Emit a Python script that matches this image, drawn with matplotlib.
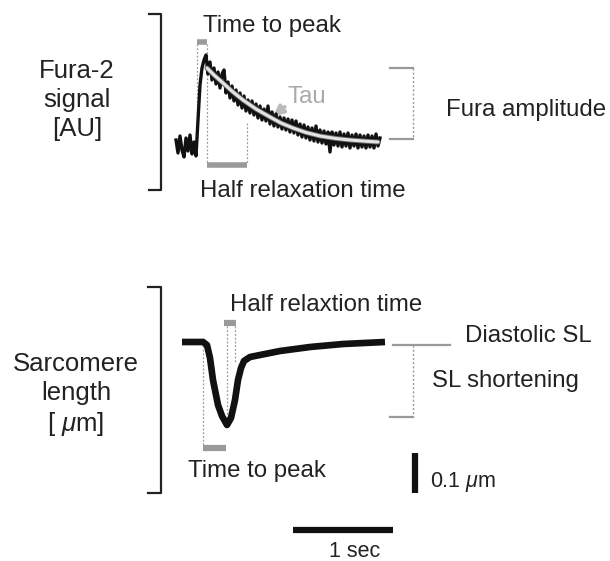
import matplotlib
matplotlib.use('Agg')

import numpy as np
import matplotlib.pyplot as plt

plt.rcParams['font.family'] = ['Liberation Sans', 'DejaVu Sans']
plt.rcParams['mathtext.fontset'] = 'custom'
plt.rcParams['mathtext.rm'] = 'Liberation Sans'
plt.rcParams['mathtext.it'] = 'Liberation Sans:italic'

# Fura-2 trace, sampled every 20 ms (AU, baseline ~0)
fura_t = np.arange(103) * 0.02
fura_sig = [0.08, -0.05, 0.12, -0.02, -0.09, 0.10, -0.03, 0.13, -0.06, 0.06, -0.08,
            0.28, 0.63, 0.80, 0.88, 0.93,
            0.74, 0.86, 0.68, 0.80, 0.64, 0.76, 0.60, 0.74, 0.78, 0.55,
            0.66, 0.50, 0.62, 0.47, 0.58, 0.43, 0.55, 0.40, 0.52, 0.37,
            0.48, 0.35, 0.47, 0.33, 0.44, 0.30, 0.42, 0.28, 0.39, 0.27,
            0.42, 0.24, 0.36, 0.22, 0.34, 0.21, 0.31, 0.19, 0.30, 0.18,
            0.29, 0.16, 0.28, 0.15, 0.27, 0.13, 0.24, 0.11, 0.23, 0.10,
            0.21, 0.08, 0.20, 0.07, 0.22, 0.06, 0.18, 0.05, 0.17, 0.04,
            0.16, -0.04, 0.16, 0.03, 0.15, 0.02, 0.16, 0.01, 0.14, 0.02,
            0.15, 0.00, 0.13, 0.02, 0.14, 0.00, 0.13, 0.01, 0.12, 0.00,
            0.13, 0.01, 0.12, 0.00, 0.14, 0.02, 0.10]

# exponential fit (Tau)
fit_t = [0.31, 0.38, 0.47, 0.57, 0.67, 0.80, 0.94, 1.05, 1.17, 1.30, 1.44, 1.60, 1.74, 1.90, 2.02]
fit_sig = [0.80, 0.73, 0.65, 0.56, 0.48, 0.39, 0.31, 0.25, 0.20, 0.155, 0.12, 0.095, 0.08, 0.068, 0.06]

# sarcomere length trace (um)
sl_t = [0.06, 0.27, 0.31, 0.34, 0.37, 0.42, 0.46, 0.51, 0.55, 0.59, 0.62, 0.65, 0.68,
        0.74, 0.89, 1.04, 1.34, 1.67, 2.09]
sl_um = [1.800, 1.800, 1.7925, 1.76, 1.705, 1.6425, 1.615, 1.5925, 1.61, 1.655, 1.705,
         1.735, 1.7525, 1.7625, 1.77, 1.7775, 1.7875, 1.795, 1.800]

# scale bars
time_bar = [1.17, 2.17]   # 1 sec
sl_bar = [1.4225, 1.5225]  # 0.1 um

GRAY = '#9a9a9a'
fig = plt.figure(figsize=(6.1, 5.61), dpi=100)

# pixel overlay for annotations
ax = fig.add_axes([0, 0, 1, 1])
ax.set_xlim(0, 610)
ax.set_ylim(561, 0)
ax.axis('off')

# fura axes
axf = fig.add_axes([0, 0, 1, 1])
axf.set_xlim(-1.76, 4.34)
axf.set_ylim(-4.13, 1.48)
axf.axis('off')
axf.plot(fura_t, fura_sig, color='#111111', lw=2.4, solid_joinstyle='round')
axf.plot(fit_t, fit_sig, color='#666666', lw=3.6, solid_capstyle='round')
axf.plot(fit_t, fit_sig, color='#e4e4e4', lw=2.2, solid_capstyle='round')

# SL axes
axs = fig.add_axes([0, 0, 1, 1])
axs.set_xlim(-1.76, 4.34)
axs.set_ylim(1.2525, 2.655)
axs.axis('off')
axs.plot(sl_t, sl_um, color='#111111', lw=4.8, solid_joinstyle='round', solid_capstyle='butt')
axs.plot(time_bar, [1.33, 1.33], color='#111111', lw=4.5, solid_capstyle='butt')
axs.plot([2.39, 2.39], sl_bar, color='#111111', lw=4.5, solid_capstyle='butt')

# brackets on the left
ax.plot([149, 161, 161, 149], [14, 14, 190, 190], color='#222222', lw=1.6)
ax.plot([148, 161, 161, 148], [287, 287, 493, 493], color='#222222', lw=1.6)

ax.text(77, 100, 'Fura-2\nsignal\n[AU]', fontsize=18.5, ha='center', va='center',
        linespacing=1.25, color='#222222')
ax.text(76, 395, 'Sarcomere\nlength\n[ $\\mu$m]', fontsize=18.5, ha='center', va='center',
        linespacing=1.25, color='#222222')

# fura annotations
ax.plot([197, 207], [42, 42], color=GRAY, lw=4, solid_capstyle='butt')
ax.plot([207, 247], [165, 165], color=GRAY, lw=4, solid_capstyle='butt')
ax.plot([197, 197], [44, 120], color=GRAY, lw=0.9, ls=(0, (1.5, 1.5)))
ax.plot([207, 207], [44, 163], color=GRAY, lw=0.9, ls=(0, (1.5, 1.5)))
ax.plot([247, 247], [123, 163], color=GRAY, lw=0.9, ls=(0, (1.5, 1.5)))
ax.plot([390, 413], [68, 68], color=GRAY, lw=1.6)
ax.plot([390, 413], [139, 139], color=GRAY, lw=1.6)
ax.plot([413, 413], [68, 139], color=GRAY, lw=1.0, ls=(0, (1.5, 1.5)))
ax.annotate('', xy=(271, 118), xytext=(287, 105),
            arrowprops=dict(arrowstyle='-|>', color='#bbbbbb', lw=2.6, mutation_scale=15))

ax.text(203, 32, 'Time to peak', fontsize=17.3, color='#222222')
ax.text(288, 103, 'Tau', fontsize=17.3, color='#aaaaaa')
ax.text(200, 197, 'Half relaxation time', fontsize=17.3, color='#222222')
ax.text(446, 116, 'Fura amplitude', fontsize=17.3, color='#222222')

# SL annotations
ax.plot([224, 236], [323, 323], color=GRAY, lw=4.5, solid_capstyle='butt')
ax.plot([203, 226], [448, 448], color=GRAY, lw=4.5, solid_capstyle='butt')
ax.plot([203, 203], [338, 445], color=GRAY, lw=0.9, ls=(0, (1.5, 1.5)))
ax.plot([227, 227], [326, 423], color=GRAY, lw=0.9, ls=(0, (1.5, 1.5)))
ax.plot([235, 235], [326, 363], color=GRAY, lw=0.9, ls=(0, (1.5, 1.5)))
ax.plot([393, 450], [345, 345], color=GRAY, lw=1.6)
ax.plot([390, 413], [417, 417], color=GRAY, lw=1.6)
ax.plot([413, 413], [345, 417], color=GRAY, lw=1.0, ls=(0, (1.5, 1.5)))

ax.text(230, 311, 'Half relaxtion time', fontsize=17.3, color='#222222')
ax.text(188, 477, 'Time to peak', fontsize=17.3, color='#222222')
ax.text(465, 342, 'Diastolic SL', fontsize=17.3, color='#222222')
ax.text(432, 387, 'SL shortening', fontsize=17.3, color='#222222')
ax.text(430, 487, '0.1 $\\mu$m', fontsize=15.5, color='#222222')
ax.text(355, 557, '1 sec', fontsize=15.5, ha='center', color='#222222')

fig.savefig('out.png', dpi=100)
